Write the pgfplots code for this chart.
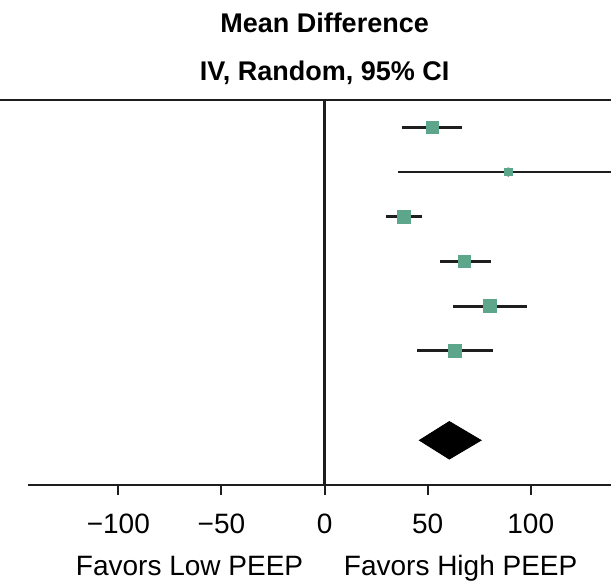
\documentclass[border=0pt]{standalone}
\usepackage{pgfplots}
\pgfplotsset{compat=1.18}
\usepackage{fontspec}
\setmainfont{Liberation Sans}
\definecolor{sqgreen}{HTML}{5DA68C}
\definecolor{linegray}{HTML}{1E1E1E}

\begin{document}
\begin{tikzpicture}
  \begin{axis}[
    name=ax,
    scale only axis,
    width=291.5pt, height=192.5pt,
    xmin=-143.8, xmax=138.9,
    ymin=-1, ymax=7.611,
    axis x line*=bottom,
    hide y axis,
    axis line style={linegray, line width=1.3pt, -},
    xtick={-100,-50,0,50,100},
    xticklabels={−100,−50,0,50,100},
    xtick align=outside,
    major tick length=5pt,
    xtick style={linegray, line width=1pt},
    xticklabel style={font=\fontsize{14}{16}\selectfont, anchor=base, yshift=-19pt},
    clip=true,
  ]
    % reference line at zero
    \addplot[linegray, line width=1.1pt] coordinates {(0,-1) (0,7.611)};
    % confidence intervals
    \addplot[only marks, mark=none,
      error bars/.cd, x dir=both, x explicit,
      error mark=none,
      error bar style={linegray, line width=1.4pt}]
      table[x=md, y=row, x error plus=ep, x error minus=em] {
      row md    em    ep
      7   52.1  14.5  14.6
      6   89.1  53.3  53.3
      5   38.4  8.6   8.7
      4   67.8  11.8  12.9
      3   80.3  17.8  18.1
      2   63.3  18.6  18.3
    };
    % point estimates, box size ~ weight
    \addplot[scatter, only marks, mark=square*,
      draw=none, fill=sqgreen,
      scatter/use mapped color={draw=sqgreen, fill=sqgreen},
      visualization depends on={\thisrow{s} \as \msize},
      scatter/@pre marker code/.append style={/tikz/mark size=\msize pt}]
      table[x=md, y=row] {
      row md    s
      7   52.1  3.0
      6   89.1  1.8
      5   38.4  3.3
      4   67.8  3.2
      3   80.3  3.2
      2   63.3  3.2
    };
    % pooled estimate
    \addplot[fill=black, draw=black] coordinates
      {(46.0,0) (60.5,0.42) (75.9,0) (60.5,-0.42)} -- cycle;

    \coordinate (TL) at (rel axis cs:-0.048,1);
    \coordinate (TR) at (rel axis cs:1,1);
    \coordinate (Z0) at (axis cs:0,-1);
    \coordinate (Z1) at (axis cs:0,7.611);
  \end{axis}
  \draw[linegray, line width=1.2pt] (TL) -- (TR);
  \node[anchor=base, font=\bfseries\fontsize{13.5}{15}\selectfont, yshift=34pt] at (Z1) {Mean Difference};
  \node[anchor=base, font=\bfseries\fontsize{13.5}{15}\selectfont, yshift=10pt] at (Z1) {IV, Random, 95\% CI};
  \node[anchor=base east, font=\fontsize{14}{16}\selectfont, inner sep=0pt, xshift=-10.5pt, yshift=-45pt] at (Z0) {Favors Low PEEP};
  \node[anchor=base west, font=\fontsize{14}{16}\selectfont, inner sep=0pt, xshift=9.5pt, yshift=-45pt] at (Z0) {Favors High PEEP};
  \pgfresetboundingbox
  \path ([xshift=-14pt,yshift=-242.5pt]ax.north west) rectangle ([yshift=50pt]ax.north east);
\end{tikzpicture}
\end{document}
